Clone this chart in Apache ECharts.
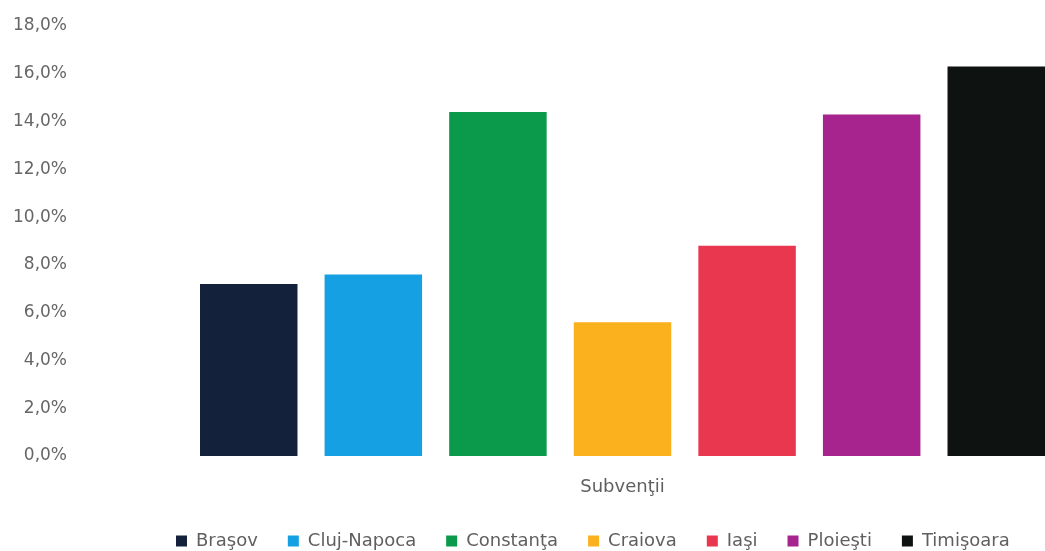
<!DOCTYPE html>
<html>
<head>
<meta charset="utf-8">
<script src="https://cdn.jsdelivr.net/npm/echarts@6/dist/echarts.min.js"></script>
<style>
  html, body { margin: 0; padding: 0; background: #fff; }
  #chart { width: 1045px; height: 551px; }
</style>
</head>
<body>
<div id="chart"></div>
<script>
// date (procente)
const category = ['Subvenţii'];
const cities = ['Braşov', 'Cluj-Napoca', 'Constanţa', 'Craiova', 'Iaşi', 'Ploieşti', 'Timişoara'];
const values = [7.2, 7.6, 14.4, 5.6, 8.8, 14.3, 16.3];
const colors = ['#13213a', '#14a0e2', '#0b9a4b', '#fbb01d', '#e8374f', '#a7248f', '#0e1311'];

const textColor = '#5f5f5f';
const font = '"DejaVu Sans", sans-serif';

let myChart = echarts.init(document.getElementById('chart'));

let series = cities.map((name, i) => ({
  name: name,
  type: 'bar',
  data: [values[i]],
  itemStyle: { color: colors[i] },
  barGap: '27.8%',
  barCategoryGap: 0
}));

let option = {
  animation: false,
  color: colors,
  grid: {
    left: 200,
    right: -8,
    top: 26,
    bottom: 95
  },
  legend: {
    data: cities,
    left: 171,
    top: 527,
    itemWidth: 11,
    itemHeight: 11,
    itemGap: 30,
    icon: 'rect',
    textStyle: { color: textColor, fontSize: 18, fontFamily: font, padding: [0, 0, 0, 4] }
  },
  xAxis: {
    type: 'category',
    data: category,
    axisLine: { show: false },
    axisTick: { show: false },
    axisLabel: { color: textColor, fontSize: 18, fontFamily: font, margin: 22 }
  },
  yAxis: {
    type: 'value',
    min: 0,
    max: 18,
    interval: 2,
    axisLine: { show: false },
    axisTick: { show: false },
    splitLine: { show: false },
    axisLabel: {
      color: '#666',
      fontSize: 17,
      fontFamily: font,
      margin: 133,
      formatter: v => v.toFixed(1).replace('.', ',') + '%'
    }
  },
  series: series
};

myChart.setOption(option);
</script>
</body>
</html>
